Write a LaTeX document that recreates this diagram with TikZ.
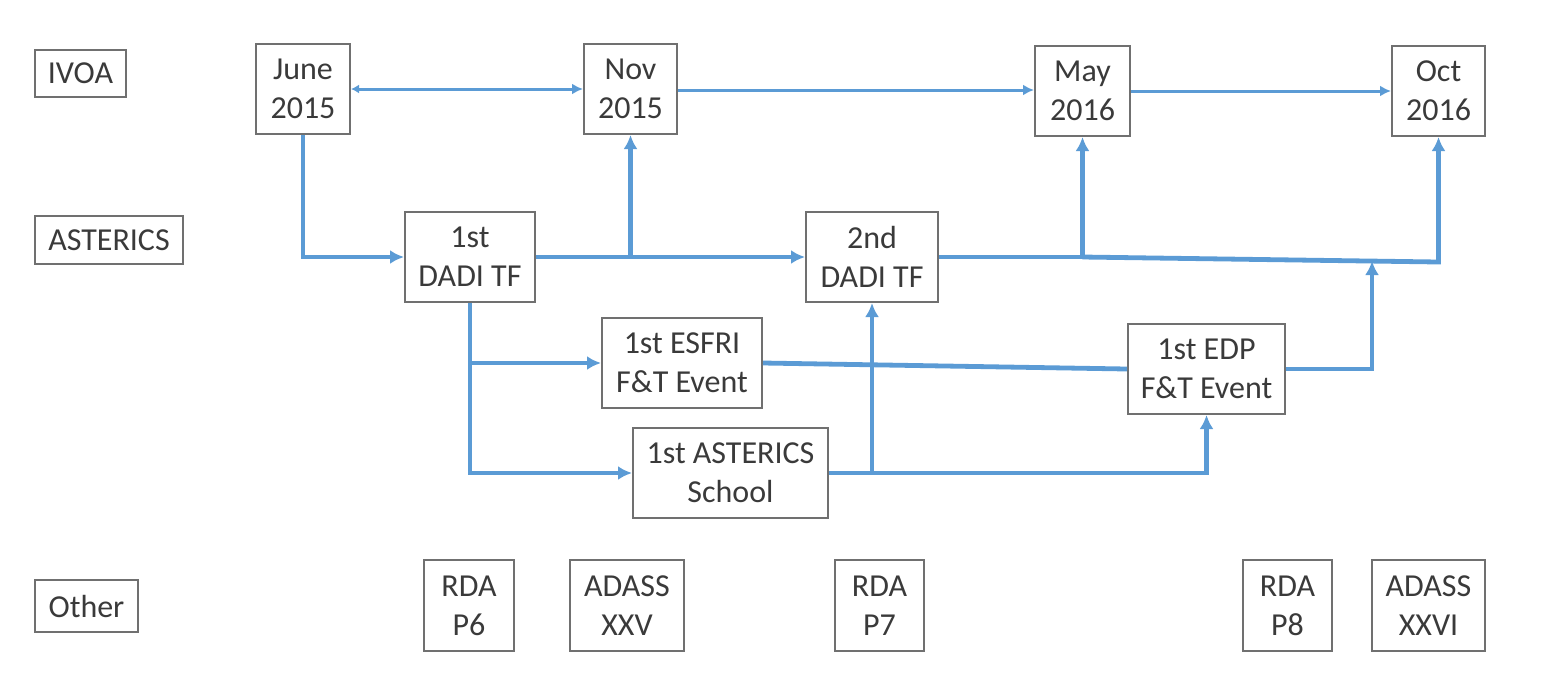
\documentclass[tikz,border=0pt]{standalone}
\usepackage{fontspec}
\setmainfont{Carlito}
\usetikzlibrary{arrows.meta}
\definecolor{arrowblue}{HTML}{5B9BD5}
\definecolor{boxgray}{HTML}{707070}
\definecolor{txtgray}{HTML}{3A3A3A}
\begin{document}
\begin{tikzpicture}[x=0.5pt,y=-0.5pt,
  box/.style={draw=boxgray, line width=1pt, text=txtgray, align=center, inner sep=0pt,
    font=\fontsize{16}{19.5}\selectfont},
  thinarr/.style={draw=arrowblue, line width=1.5pt, -{Latex[length=5.5pt,width=5.5pt]}},
  thickarr/.style={draw=arrowblue, line width=2.4pt, -{Latex[length=7pt,width=7pt]}},
  thickline/.style={draw=arrowblue, line width=2.4pt}]
\useasboundingbox (0,0) rectangle (1545,687);
% row labels
\node[box, minimum width=45.5pt, minimum height=23.5pt] (ivoa) at (80.5,73.5) {IVOA};
\node[box, minimum width=74pt, minimum height=24pt] (asterics) at (109,240) {ASTERICS};
\node[box, minimum width=51.5pt, minimum height=26pt] (other) at (86.5,606) {Other};
% IVOA row
\node[box, minimum width=47pt, minimum height=45pt] (june) at (303,89) {June\\2015};
\node[box, minimum width=46.5pt, minimum height=45pt] (nov) at (630.5,89) {Nov\\2015};
\node[box, minimum width=47.5pt, minimum height=45pt] (may) at (1082.5,91) {May\\2016};
\node[box, minimum width=46.5pt, minimum height=45pt] (oct) at (1438.5,91) {Oct\\2016};
% ASTERICS row
\node[box, minimum width=65pt, minimum height=45pt] (dadi1) at (470,257) {1st\\DADI TF};
\node[box, minimum width=66pt, minimum height=45pt] (dadi2) at (872,257) {2nd\\DADI TF};
\node[box, minimum width=80pt, minimum height=45pt] (esfri) at (682,363) {1st ESFRI\\F\&T Event};
\node[box, minimum width=97.5pt, minimum height=45pt] (school) at (730.5,473) {1st ASTERICS\\School};
\node[box, minimum width=78.5pt, minimum height=45pt] (edp) at (1206.5,369) {1st EDP\\F\&T Event};
% Other row
\node[box, minimum width=45pt, minimum height=45.5pt] (rda6) at (469,605.5) {RDA\\P6};
\node[box, minimum width=57pt, minimum height=45.5pt] (adass25) at (627,605.5) {ADASS\\XXV};
\node[box, minimum width=44.5pt, minimum height=45.5pt] (rda7) at (879.5,605.5) {RDA\\P7};
\node[box, minimum width=44.5pt, minimum height=45.5pt] (rda8) at (1287.5,605.5) {RDA\\P8};
\node[box, minimum width=56.5pt, minimum height=45.5pt] (adass26) at (1428.5,605.5) {ADASS\\XXVI};
% junction coordinates
\coordinate (j1) at (may.south |- dadi2.east);
\coordinate (j2) at (1438.5,262);
\coordinate (j3) at (1372,261);
\coordinate (n1) at (may.west |- 0,90);
% IVOA row connectors
\draw[thinarr, {Latex[length=4pt,width=4.5pt]}-{Latex[length=5.5pt,width=5.5pt]}] (june.east) -- (nov.west);
\draw[thinarr] (nov.east |- n1) -- (n1);
\draw[thinarr] (may.east) -- (oct.west);
% June -> 1st DADI
\draw[thickarr] (june.south) |- (dadi1.west);
% 1st DADI -> 2nd DADI, branch to Nov
\draw[thickarr] (dadi1.east) -- (dadi2.west);
\draw[thickarr] (nov.south |- dadi1.east) -- (nov.south);
% 2nd DADI -> May, Oct
\draw[thickarr] (dadi2.east) -- (j1) -- (may.south);
\draw[thickarr] (j1) -- (j2) -- (oct.south);
% 1st DADI -> School, ESFRI
\draw[thickarr] (dadi1.south) |- (school.west);
\draw[thickarr] (dadi1.south |- esfri.west) -- (esfri.west);
% ESFRI -- EDP
\draw[thickline] (esfri.east) -- (edp.west);
% School -> EDP, 2nd DADI
\draw[thickarr] (school.east) -| (edp.south);
\draw[thickarr] (dadi2.south |- school.east) -- (dadi2.south);
% EDP -> junction
\draw[thickarr] (edp.east) -| (j3);
\end{tikzpicture}
\end{document}
